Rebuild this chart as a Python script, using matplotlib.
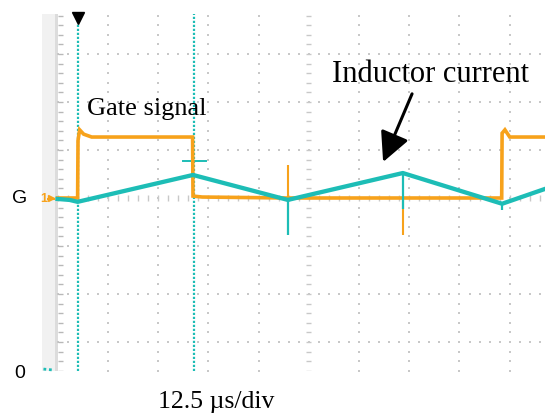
import numpy as np
import matplotlib
matplotlib.use("Agg")
import matplotlib.pyplot as plt

# Time base: 12.5 us per division, vertical in screen divisions (0 = channel ground "G")
us_per_div = 12.5

# Gate signal (channel 1, orange)
gate_t = [0.0, 5.0, 5.1, 5.5, 6.5, 8.5, 20.0, 33.6, 33.7, 36.0, 57.3, 85.9,
          110.5, 110.6, 111.3, 112.5, 121.3]
gate_v = [0.0, 0.0, 1.20, 1.42, 1.33, 1.27, 1.27, 1.27, 0.04, 0.02, 0.0, 0.0,
          0.0, 1.35, 1.42, 1.27, 1.27]
# switching spikes on the gate trace: time, peak value
gate_spike_t = [57.3, 85.9]
gate_spike_v = [0.69, -0.77]

# Inductor current (channel 2, teal)
coil_t = [0.0, 3.0, 5.0, 33.7, 57.3, 85.9, 110.6, 121.3]
coil_v = [-0.02, -0.04, -0.08, 0.48, -0.04, 0.52, -0.12, 0.19]
coil_spike_t = [57.3, 85.9, 110.6]
coil_spike_v = [-0.77, -0.23, -0.25]

# Cursor positions (us)
cursor_t = [5.0, 34.0]
cursor_mark = (34.2, 0.77)

orange = "#f7a21b"
teal = "#1dbdb6"
grid_c = "#c8c8c8"

W, H = 545, 414
fig = plt.figure(figsize=(W / 100, H / 100), dpi=100)
ax = fig.add_axes([42 / W, 42 / H, 503 / W, 357 / H])
x_left, x_right = -3.86, 121.27
y_bot, y_top = -3.604, 3.833
ax.set_xlim(x_left, x_right)
ax.set_ylim(y_bot, y_top)
ax.axis("off")

# left margin strip of the scope screen
ax.axvspan(x_left, 0, color="#f1f1f1", lw=0, zorder=0)
ax.axvspan(-0.6, 0.0, color="#dcdcdc", lw=0, zorder=0)

# graticule
minor_t = np.arange(0, x_right, us_per_div / 5)
minor_v = np.arange(-3.6, y_top, 0.2)
for k in range(1, 10):
    tk = k * us_per_div
    if k == 5:
        ax.hlines(minor_v, tk - 0.6, tk + 0.6, color=grid_c, lw=1.0, zorder=1)
    else:
        ax.scatter(np.full_like(minor_v, tk), minor_v, s=2.0, marker="s", color=grid_c, lw=0, zorder=1)
for r in [-3, -2, -1, 1, 2, 3]:
    ax.scatter(minor_t, np.full_like(minor_t, r), s=2.0, marker="s", color=grid_c, lw=0, zorder=1)
ax.vlines(minor_t, -0.06, 0.06, color=grid_c, lw=1.0, zorder=1)
# left edge scale ticks
ax.hlines(minor_v, 0.1, 1.3, color="#b8b8b8", lw=1.0, zorder=1)

# cursors
for ct in cursor_t:
    ax.plot([ct, ct], [y_bot, y_top], color=teal, lw=1.6, ls=(0, (1, 0.8)), zorder=2)
ax.plot([cursor_mark[0] - 3.0, cursor_mark[0] + 2.7], [cursor_mark[1]] * 2, color=teal, lw=1.4, zorder=3)

# traces
ax.plot(gate_t, gate_v, color=orange, lw=2.6, zorder=4, solid_joinstyle="miter")
ax.vlines(gate_spike_t, np.interp(gate_spike_t, gate_t, gate_v), gate_spike_v, color=orange, lw=1.5, zorder=4)
ax.plot(coil_t, coil_v, color=teal, lw=3.1, zorder=5)
ax.vlines(coil_spike_t, np.interp(coil_spike_t, coil_t, coil_v), coil_spike_v, color=teal, lw=1.6, zorder=5)

# trigger marker
ax.plot([cursor_t[0] + 0.2], [y_top - 0.08], marker="v", color="black", ms=8, clip_on=False, zorder=6)

# channel ground markers
ax.text(-3.5, 0.0, "1", color=orange, fontsize=9, ha="center", va="center", family="Liberation Sans",
        fontweight="bold", zorder=6)
ax.plot([-1.6], [0.0], marker=">", color=orange, ms=5, zorder=6)
ax.plot([-1.7], [-0.02], marker="_", color=orange, ms=6, mew=1.5, zorder=6)
ax.plot([-3.5, -1.0], [y_bot + 0.04, y_bot + 0.02], color=teal, lw=2, ls=(0, (1, 1)), clip_on=False, zorder=6)

# annotations
serif = "Liberation Serif"
ax.text(7.3, 1.75, "Gate signal", family=serif, fontsize=19, ha="left", va="baseline", zorder=7)
ax.text(68.3, 2.44, "Inductor current", family=serif, fontsize=22, ha="left", va="baseline", zorder=7)
ax.annotate("", xy=(81.0, 0.75), xytext=(88.2, 2.17),
            arrowprops=dict(arrowstyle="-|>,head_length=0.9,head_width=0.45", color="black",
                            lw=2.2, mutation_scale=20, shrinkA=0, shrinkB=0), zorder=7)

fig.text(158 / W, 1 - 408 / H, "12.5 \u00b5s/div", family=serif, fontsize=18.5, ha="left", va="baseline")
fig.text(20 / W, 1 - 199 / H, "G", family="Liberation Sans", fontsize=14, ha="center", va="center")
fig.text(20 / W, 1 - 374 / H, "0", family="Liberation Sans", fontsize=14, ha="center", va="center")

fig.savefig("out.png", dpi=100)
